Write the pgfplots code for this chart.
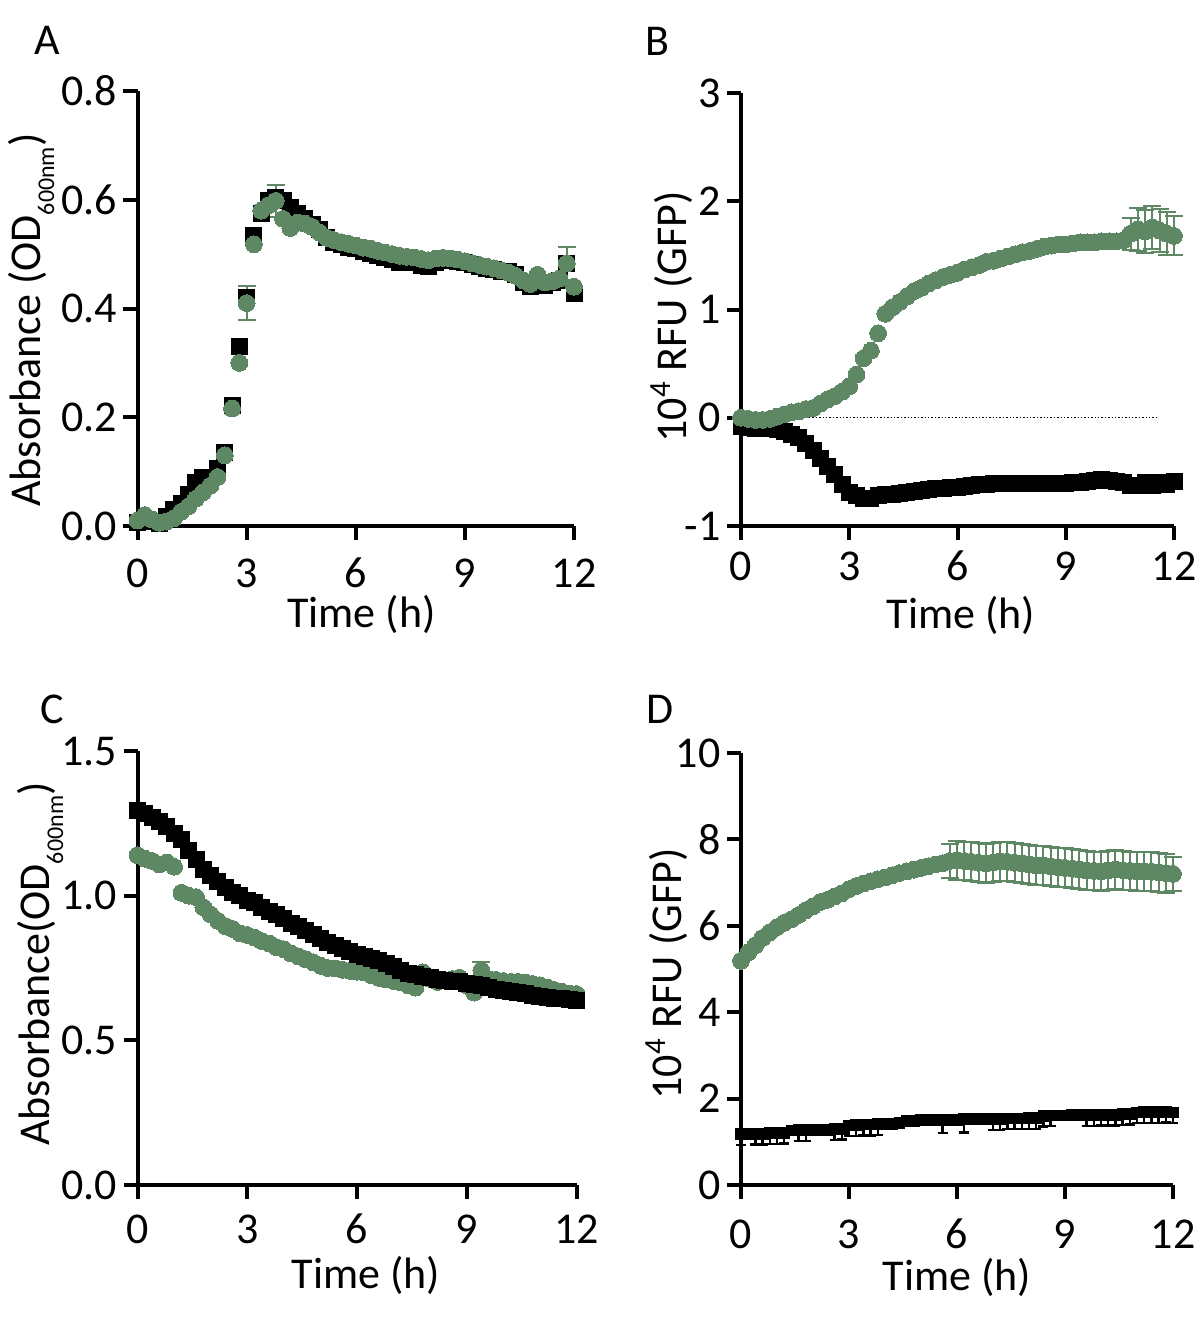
\documentclass[border=0pt]{standalone}
\usepackage{pgfplots}
\pgfplotsset{compat=1.18}
\usepackage{pgfplotstable}
\usepackage{fontspec}
\setmainfont{Carlito}

\definecolor{gr}{RGB}{94,135,99}
\newcommand{\sub}[1]{\raisebox{-7pt}{\fontsize{12}{12}\selectfont #1}}

% panel A: OD600, black = control, green = GFP strain
\pgfplotstableread{
t    k     g
0.0  0.006 0.010
0.2  0.012 0.020
0.4  0.008 0.012
0.6  0.005 0.006
0.8  0.018 0.008
1.0  0.030 0.014
1.2  0.042 0.026
1.4  0.058 0.036
1.6  0.080 0.050
1.8  0.090 0.062
2.0  0.090 0.074
2.2  0.105 0.090
2.4  0.135 0.130
2.6  0.222 0.216
2.8  0.330 0.300
3.0  0.420 0.410
3.2  0.535 0.518
3.4  0.575 0.580
3.6  0.598 0.590
3.8  0.605 0.598
4.0  0.598 0.565
4.2  0.585 0.548
4.4  0.575 0.558
4.6  0.565 0.556
4.8  0.555 0.550
5.0  0.545 0.540
5.2  0.530 0.530
5.4  0.522 0.526
5.6  0.517 0.522
5.8  0.512 0.519
6.0  0.510 0.516
6.2  0.505 0.512
6.4  0.502 0.510
6.6  0.497 0.506
6.8  0.494 0.503
7.0  0.490 0.500
7.2  0.484 0.497
7.4  0.484 0.495
7.6  0.486 0.494
7.8  0.480 0.491
8.0  0.478 0.489
8.2  0.484 0.492
8.4  0.488 0.493
8.6  0.488 0.492
8.8  0.486 0.490
9.0  0.484 0.487
9.2  0.481 0.483
9.4  0.477 0.480
9.6  0.474 0.477
9.8  0.471 0.474
10.0 0.469 0.470
10.2 0.468 0.466
10.4 0.462 0.460
10.6 0.448 0.452
10.8 0.440 0.445
11.0 0.450 0.462
11.2 0.443 0.448
11.4 0.448 0.450
11.6 0.452 0.455
11.8 0.482 0.483
12.0 0.428 0.440
}\dataA
\pgfplotstableread{
t    g     e
3.0  0.410 0.032
3.8  0.598 0.030
11.8 0.483 0.030
}\errA

% panel B: GFP fluorescence
\pgfplotstableread{
t    k      g
0.0  -0.08  0.00
0.2  -0.09  -0.01
0.4  -0.10  -0.02
0.6  -0.10  -0.02
0.8  -0.10  -0.01
1.0  -0.11  0.01
1.2  -0.13  0.03
1.4  -0.15  0.05
1.6  -0.18  0.06
1.8  -0.24  0.08
2.0  -0.30  0.09
2.2  -0.38  0.13
2.4  -0.45  0.17
2.6  -0.52  0.20
2.8  -0.62  0.24
3.0  -0.69  0.29
3.2  -0.72  0.40
3.4  -0.75  0.55
3.6  -0.75  0.62
3.8  -0.72  0.78
4.0  -0.71  0.96
4.2  -0.71  1.02
4.4  -0.70  1.07
4.6  -0.69  1.12
4.8  -0.68  1.17
5.0  -0.67  1.20
5.2  -0.66  1.24
5.4  -0.65  1.27
5.6  -0.65  1.30
5.8  -0.645 1.32
6.0  -0.64  1.34
6.2  -0.635 1.37
6.4  -0.63  1.39
6.6  -0.62  1.41
6.8  -0.615 1.44
7.0  -0.61  1.45
7.2  -0.61  1.47
7.4  -0.61  1.49
7.6  -0.61  1.51
7.8  -0.61  1.53
8.0  -0.61  1.54
8.2  -0.61  1.56
8.4  -0.61  1.58
8.6  -0.61  1.59
8.8  -0.61  1.60
9.0  -0.61  1.60
9.2  -0.60  1.61
9.4  -0.60  1.62
9.6  -0.59  1.62
9.8  -0.58  1.62
10.0 -0.57  1.63
10.2 -0.58  1.63
10.4 -0.59  1.63
10.6 -0.60  1.64
10.8 -0.63  1.70
11.0 -0.63  1.74
11.2 -0.60  1.72
11.4 -0.63  1.76
11.6 -0.60  1.73
11.8 -0.62  1.70
12.0 -0.59  1.68
}\dataB
\pgfplotstableread{
t    g    e
10.8 1.70 0.15
11.0 1.74 0.20
11.2 1.72 0.20
11.4 1.76 0.20
11.6 1.73 0.20
11.8 1.70 0.20
12.0 1.68 0.18
}\errB

% panel C: OD600 of induced cultures
\pgfplotstableread{
t    k     g
0.0  1.295 1.140
0.2  1.285 1.128
0.4  1.270 1.120
0.6  1.255 1.108
0.8  1.240 1.115
1.0  1.215 1.100
1.2  1.195 1.010
1.4  1.155 1.000
1.6  1.125 0.995
1.8  1.090 0.960
2.0  1.070 0.935
2.2  1.050 0.913
2.4  1.030 0.895
2.6  1.012 0.885
2.8  1.000 0.870
3.0  0.985 0.864
3.2  0.975 0.855
3.4  0.960 0.843
3.6  0.947 0.835
3.8  0.935 0.822
4.0  0.920 0.815
4.2  0.905 0.800
4.4  0.892 0.790
4.6  0.878 0.780
4.8  0.865 0.770
5.0  0.852 0.758
5.2  0.837 0.750
5.4  0.828 0.748
5.6  0.818 0.744
5.8  0.808 0.740
6.0  0.797 0.737
6.2  0.790 0.735
6.4  0.782 0.725
6.6  0.775 0.716
6.8  0.765 0.710
7.0  0.755 0.705
7.2  0.742 0.700
7.4  0.730 0.690
7.6  0.726 0.682
7.8  0.722 0.735
8.0  0.716 0.712
8.2  0.710 0.702
8.4  0.707 0.706
8.6  0.705 0.712
8.8  0.702 0.716
9.0  0.698 0.690
9.2  0.692 0.665
9.4  0.688 0.742
9.6  0.682 0.712
9.8  0.676 0.709
10.0 0.672 0.705
10.2 0.670 0.702
10.4 0.667 0.702
10.6 0.661 0.700
10.8 0.655 0.695
11.0 0.652 0.690
11.2 0.648 0.682
11.4 0.646 0.674
11.6 0.643 0.668
11.8 0.640 0.662
12.0 0.638 0.660
}\dataC
\pgfplotstableread{
t   g     e
9.4 0.742 0.030
}\errC

% panel D: GFP fluorescence of induced cultures
\pgfplotstableread{
t    k    ke   g    ge
0.0  1.18 0.25 5.19 0
0.2  1.18 0    5.38 0
0.4  1.19 0.25 5.55 0
0.6  1.19 0.25 5.72 0
0.8  1.20 0.25 5.85 0
1.0  1.20 0.25 5.97 0
1.2  1.21 0.25 6.07 0
1.4  1.26 0    6.15 0
1.6  1.27 0.25 6.25 0
1.8  1.27 0.25 6.36 0
2.0  1.28 0    6.45 0
2.2  1.28 0    6.55 0
2.4  1.28 0    6.60 0
2.6  1.29 0.25 6.68 0
2.8  1.30 0.25 6.75 0
3.0  1.38 0.25 6.85 0
3.2  1.39 0.25 6.92 0
3.4  1.40 0.25 6.98 0
3.6  1.40 0.25 7.03 0
3.8  1.41 0.25 7.08 0
4.0  1.42 0    7.12 0
4.2  1.42 0    7.17 0
4.4  1.43 0    7.22 0
4.6  1.48 0    7.26 0
4.8  1.49 0    7.30 0
5.0  1.50 0    7.34 0
5.2  1.50 0    7.38 0
5.4  1.50 0    7.42 0
5.6  1.50 0.30 7.45 0
5.8  1.50 0    7.50 0.40
6.0  1.51 0    7.52 0.45
6.2  1.52 0.30 7.50 0.45
6.4  1.52 0    7.48 0.45
6.6  1.52 0    7.46 0.45
6.8  1.53 0    7.44 0.45
7.0  1.53 0.25 7.46 0.45
7.2  1.53 0.25 7.49 0.45
7.4  1.54 0.25 7.48 0.45
7.6  1.54 0.25 7.46 0.45
7.8  1.54 0.25 7.44 0.45
8.0  1.55 0.25 7.42 0.45
8.2  1.55 0.25 7.40 0.45
8.4  1.60 0.25 7.40 0.45
8.6  1.61 0.25 7.38 0.45
8.8  1.61 0    7.36 0.45
9.0  1.61 0    7.34 0.45
9.2  1.62 0    7.32 0.45
9.4  1.62 0    7.30 0.45
9.6  1.62 0.25 7.28 0.45
9.8  1.62 0.25 7.27 0.45
10.0 1.63 0.25 7.26 0.45
10.2 1.63 0.25 7.28 0.45
10.4 1.63 0.25 7.30 0.45
10.6 1.64 0.25 7.29 0.45
10.8 1.65 0.25 7.27 0.45
11.0 1.68 0.25 7.26 0.45
11.2 1.69 0.25 7.26 0.45
11.4 1.69 0.25 7.25 0.45
11.6 1.69 0.25 7.24 0.45
11.8 1.70 0.25 7.22 0.45
12.0 1.68 0.25 7.20 0.40
}\dataD

\pgfplotsset{
  panel/.style={
    scale only axis, clip=false,
    axis x line*=bottom, axis y line*=left,
    axis line style={line width=2pt, black},
    tick style={line width=2pt, black},
    tick align=outside, major tick length=7pt,
    xmin=0, xmax=12, enlargelimits=false,
    xtick={0,3,6,9,12}, xticklabels={0,3,6,9,12},
    xticklabel style={anchor=base, inner sep=0pt},
    yticklabel style={anchor=east, inner sep=0pt, xshift=-3pt},
    font=\fontsize{22}{26}\selectfont,
  },
  gmark/.style={only marks, mark=*, mark size=4.2pt,
    mark options={fill=gr, draw=gr, line width=0pt}},
  kmark/.style={only marks, mark=square*, mark size=4pt,
    mark options={fill=black, draw=black, line width=0pt}},
  gerr/.style={draw=none, mark=none, gr,
    error bars/.cd, y dir=both, y explicit,
    error bar style={line width=1pt, gr},
    error mark options={line width=1pt, gr, mark size=4.5pt, rotate=90}},
}

\begin{document}
\begin{tikzpicture}[font=\fontsize{22}{26}\selectfont]
\useasboundingbox (0,0) rectangle (600pt,-659.5pt);

% A
\begin{axis}[panel, at={(68.75pt,-263pt)}, anchor=south west,
  width=218.25pt, height=217.5pt, ymin=0, ymax=0.8,
  ytick={0,0.2,0.4,0.6,0.8}, yticklabels={0.0,0.2,0.4,0.6,0.8},
  xticklabel style={yshift=-23.5pt}]
\addplot[gerr] table[x=t, y=g, y error=e] {\errA};
\addplot[kmark] table[x=t, y=k] {\dataA};
\addplot[gmark] table[x=t, y=g] {\dataA};
\end{axis}

% B
\begin{axis}[panel, at={(370.5pt,-263pt)}, anchor=south west,
  width=216.5pt, height=216.5pt, ymin=-1, ymax=3,
  ytick={-1,0,1,2,3}, yticklabels={-1,0,1,2,3},
  xticklabel style={yshift=-20pt}]
\addplot[black, densely dotted, line width=0.7pt] coordinates {(0,0) (11.5,0)};
\addplot[gerr] table[x=t, y=g, y error=e] {\errB};
\addplot[kmark] table[x=t, y=k] {\dataB};
\addplot[gmark] table[x=t, y=g] {\dataB};
\end{axis}

% C
\begin{axis}[panel, at={(68.75pt,-592.5pt)}, anchor=south west,
  width=219.5pt, height=217pt, ymin=0, ymax=1.5,
  ytick={0,0.5,1,1.5}, yticklabels={0.0,0.5,1.0,1.5},
  xticklabel style={yshift=-22pt}]
\addplot[gerr] table[x=t, y=g, y error=e] {\errC};
\addplot[gmark] table[x=t, y=g] {\dataC};
\addplot[kmark] table[x=t, y=k] {\dataC};
\end{axis}

% D
\begin{axis}[panel, at={(370.5pt,-592.5pt)}, anchor=south west,
  width=216pt, height=216pt, ymin=0, ymax=10,
  ytick={0,2,4,6,8,10}, yticklabels={0,2,4,6,8,10},
  xticklabel style={yshift=-24.5pt}]
\addplot[draw=none, mark=none, error bars/.cd, y dir=minus, y explicit,
  error bar style={line width=1.2pt, black},
  error mark options={line width=1.2pt, black, mark size=2.5pt, rotate=90}]
  table[x=t, y=k, y error=ke] {\dataD};
\addplot[only marks, mark=square*, mark size=2.7pt,
  mark options={fill=black, draw=black, line width=0pt}]
  table[x=t, y=k] {\dataD};
\addplot[gerr] table[x=t, y=g, y error=ge] {\dataD};
\addplot[gmark] table[x=t, y=g] {\dataD};
\end{axis}

% panel letters
\node[anchor=base] at (23.5pt,-27pt) {A};
\node[anchor=base] at (328.5pt,-27.5pt) {B};
\node[anchor=base] at (26pt,-361.5pt) {C};
\node[anchor=base] at (330pt,-361.5pt) {D};

% axis titles
\node[anchor=base] at (180.75pt,-313.5pt) {Time (h)};
\node[anchor=base] at (480.5pt,-314pt) {Time (h)};
\node[anchor=base] at (183pt,-644pt) {Time (h)};
\node[anchor=base] at (478.5pt,-645pt) {Time (h)};
\node[anchor=base, rotate=90] at (20pt,-160pt) {Absorbance (OD\sub{600nm})};
\node[anchor=base, rotate=90] at (343pt,-158.5pt) {10\textsuperscript{4} RFU (GFP)};
\node[anchor=base, rotate=90] at (24.5pt,-482pt) {Absorbance(OD\sub{600nm})};
\node[anchor=base, rotate=90] at (340.5pt,-487pt) {10\textsuperscript{4} RFU (GFP)};
\end{tikzpicture}
\end{document}
